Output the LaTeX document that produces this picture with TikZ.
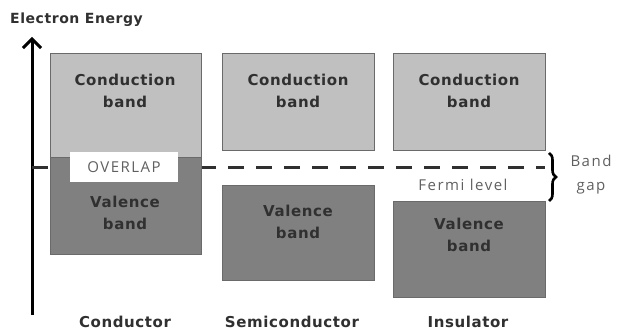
\documentclass[tikz,border=0pt]{standalone}
\usepackage{fontspec}
\setmainfont{Open Sans}
\newfontfamily\bandfont[LetterSpace=4]{DejaVu Sans}
\newfontfamily\thinfont[LetterSpace=10]{Open Sans}
\usepackage{tikz}
\usetikzlibrary{arrows.meta, decorations.pathreplacing, positioning}
\definecolor{cbgray}{HTML}{C0C0C0}
\definecolor{vbgray}{HTML}{808080}
\definecolor{edgegray}{HTML}{6A6A6A}
\definecolor{txtdark}{HTML}{303030}
\definecolor{txtlight}{HTML}{606060}

\begin{document}
\begin{tikzpicture}[x=1pt, y=1pt,
    bandbox/.style={draw=edgegray, line width=1pt, inner sep=0pt, outer sep=0pt},
    bandtext/.style={text=txtdark, font=\bandfont\fontsize{15}{22}\selectfont\bfseries, align=center, inner sep=0pt},
    thintext/.style={text=txtlight, font=\thinfont\fontsize{15}{24}\selectfont, align=center, inner sep=0pt}]
  \useasboundingbox (0,0) rectangle (625,336);
  % energy axis
  \coordinate (ebot) at (32,21);
  \coordinate (etop) at (32,299);
  \draw[line width=3pt, -{Straight Barb[length=9pt, width=18pt, line width=3pt]}] (ebot) -- (etop);
  \node[bandtext, font=\bandfont\fontsize{14}{16}\selectfont\bfseries, anchor=base west] (etitle) at (10,312) {Electron Energy};
  % fermi level
  \coordinate (fermil) at (32,168);
  \coordinate (fermir) at (545,168);
  \draw[line width=3pt, dash pattern=on 16pt off 12pt, txtdark] (fermil) -- (fermir);
  % conductor
  \node[bandbox, fill=cbgray, minimum width=151pt, minimum height=104pt, anchor=north west] (condcb) at (50,282) {};
  \node[bandbox, fill=vbgray, minimum width=151pt, minimum height=97pt, anchor=north west] (condvb) at (50,178) {};
  \node[fill=white, minimum width=108pt, minimum height=30pt, inner sep=0pt, text=txtlight,
        font=\thinfont\fontsize{15}{16}\selectfont] (overlap) at (124,169) {OVERLAP};
  \node[bandtext] (condcbt) at (125,245) {Conduction\\band};
  \node[bandtext] (condvbt) at (125,123) {Valence\\band};
  % semiconductor
  \node[bandbox, fill=cbgray, minimum width=152pt, minimum height=97pt, anchor=north west] (semicb) at (222,282) {};
  \node[bandbox, fill=vbgray, minimum width=152pt, minimum height=95pt, anchor=north west] (semivb) at (222,150) {};
  \node[bandtext] (semicbt) at (298,245) {Conduction\\band};
  \node[bandtext] (semivbt) at (298,114) {Valence\\band};
  % insulator
  \node[bandbox, fill=cbgray, minimum width=152pt, minimum height=97pt, anchor=north west] (inscb) at (393,282) {};
  \node[bandbox, fill=vbgray, minimum width=152pt, minimum height=96pt, anchor=north west] (insvb) at (393,134) {};
  \node[bandtext] (inscbt) at (469,245) {Conduction\\band};
  \node[bandtext] (insvbt) at (469,101) {Valence\\band};
  % band gap
  \coordinate (gaptop) at (549,183);
  \coordinate (gapbot) at (549,135);
  \draw[line width=2.6pt, black, decorate, decoration={brace, amplitude=7pt}] (gaptop) -- (gapbot);
  \node[thintext] (bandgap) at (591,161) {Band\\gap};
  \node[thintext] (fermi) at (463,151) {Fermi level};
  % material names
  \node[bandtext, anchor=base] (conductor) at (125,8) {Conductor};
  \node[bandtext, anchor=base] (semicond) at (292,8) {Semiconductor};
  \node[bandtext, anchor=base] (insulator) at (468,8) {Insulator};
\end{tikzpicture}
\end{document}
